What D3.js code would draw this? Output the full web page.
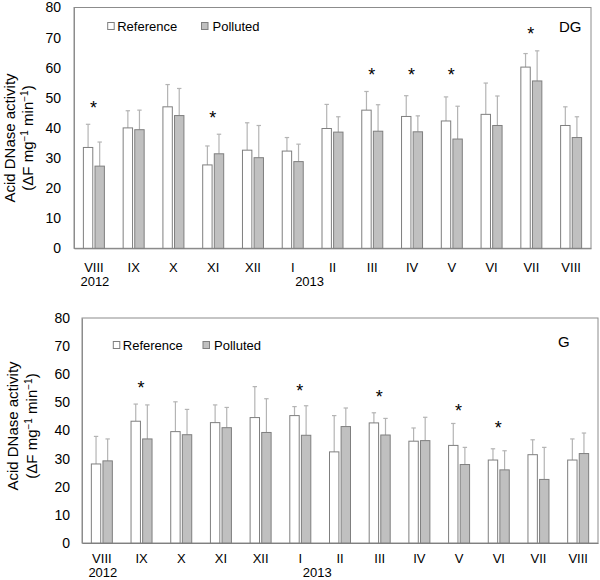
<!DOCTYPE html>
<html><head><meta charset="utf-8">
<script src="https://cdn.jsdelivr.net/npm/d3@7"></script>
<style>body{margin:0;background:#fff} svg{display:block;font-family:Arial,"Liberation Sans",sans-serif}</style>
</head><body><svg id="c" width="600" height="580"></svg>
<script>
// ---- data ----
const months = ["VIII","IX","X","XI","XII","I","II","III","IV","V","VI","VII","VIII"];
const yTicks = [0,10,20,30,40,50,60,70,80];
const years = ["2012","2013"];
const seriesNames = ["Reference","Polluted"];

const dgReference   = [33.5,40.0,47.0,27.7,32.6,32.3,39.8,45.9,43.8,42.3,44.5,60.2,40.8];
const dgReferenceSd = [7.7,5.7,7.4,6.3,9.1,4.5,8.0,6.2,6.9,8.0,10.4,4.5,6.2];
const dgPolluted    = [27.3,39.4,44.1,31.4,30.1,28.8,38.6,38.9,38.7,36.3,40.8,55.6,36.8];
const dgPollutedSd  = [8.0,6.5,9.0,6.5,10.7,5.8,5.1,8.8,5.3,10.9,9.8,10.0,6.9];
const dgStarIdx     = [0,3,7,8,9,11];
const dgStarPos     = [48.1,44.6,58.8,58.8,58.8,72.5];

const gReference    = [28.1,43.3,39.6,42.8,44.6,45.3,32.4,42.7,36.2,34.7,29.5,31.4,29.5];
const gReferenceSd  = [9.8,6.1,10.6,6.3,11.0,3.2,12.9,3.6,4.7,7.8,4.0,5.3,7.5];
const gPolluted     = [29.2,37.0,38.5,41.0,39.3,38.3,41.4,38.4,36.4,27.9,26.0,22.6,31.8];
const gPollutedSd   = [7.8,12.1,9.0,7.2,12.0,10.5,6.6,5.9,8.3,6.1,6.8,11.4,7.3];
const gStarIdx      = [1,5,7,9,10];
const gStarPos      = [56.4,55.5,53.2,48.4,42.3];

// ---- layout ----
const panels = [
  {name:"DG", ref:dgReference, refSd:dgReferenceSd, pol:dgPolluted, polSd:dgPollutedSd,
   starIdx:dgStarIdx, starPos:dgStarPos,
   x0:74, x1:591, yTop:7.5, yBot:248.3, tickPad:13, xPad:14, yearY:285.7,
   legX:107.7, legY:26, legX2:201.5, nameX:559, nameY:32,
   titleX1:10, titleX2:27.5, titleY:138},
  {name:"G", ref:gReference, refSd:gReferenceSd, pol:gPolluted, polSd:gPollutedSd,
   starIdx:gStarIdx, starPos:gStarPos,
   x0:82, x1:598, yTop:318, yBot:543, tickPad:12, xPad:10.5, yearY:577.3,
   legX:113.3, legY:345, legX2:203, nameX:558, nameY:347,
   titleX1:13, titleX2:32, titleY:426}
];

const svg = d3.select("#c");
const refFill = "#ffffff", polFill = "#c0c0c0";
const barStroke = "#7f7f7f", errColor = "#b4b4b4", frameColor = "#8c8c8c";

panels.forEach(p => {
  const g = svg.append("g");
  const x = d3.scaleBand().domain(d3.range(months.length)).range([p.x0, p.x1]);
  const y = d3.scaleLinear().domain([0,80]).range([p.yBot, p.yTop]);
  const bw = 9.4, gap = 2.2;

  // frame
  g.append("rect").attr("x", p.x0).attr("y", y(80)).attr("width", p.x1 - p.x0)
    .attr("height", y(0) - y(80)).attr("fill", "none").attr("stroke", frameColor).attr("stroke-width", 1);

  // y axis
  const ya = g.append("g").attr("transform", `translate(${p.x0},0)`)
    .call(d3.axisLeft(y).tickValues(yTicks).tickSize(0).tickPadding(p.tickPad));
  ya.select(".domain").attr("stroke", frameColor);
  ya.selectAll("text").attr("font-size", 14).attr("fill", "#000").attr("font-family", "Arial, 'Liberation Sans', sans-serif");

  // x axis
  const xa = g.append("g").attr("transform", `translate(0,${y(0)})`)
    .call(d3.axisBottom(x).tickSize(0).tickPadding(p.xPad).tickFormat(i => months[i]));
  xa.select(".domain").attr("stroke", "#808080");
  xa.selectAll("text").attr("font-size", 13).attr("fill", "#000").attr("font-family", "Arial, 'Liberation Sans', sans-serif");

  // years
  g.append("text").attr("x", x(0) + x.bandwidth()/2 + 1).attr("y", p.yearY)
    .attr("text-anchor", "middle").attr("font-size", 13).text(years[0]);
  g.append("text").attr("x", x(6) - 3).attr("y", p.yearY)
    .attr("text-anchor", "middle").attr("font-size", 13).text(years[1]);

  const series = [
    {vals:p.ref, sd:p.refSd, fill:refFill, off:-gap/2 - bw},
    {vals:p.pol, sd:p.polSd, fill:polFill, off:gap/2}
  ];
  series.forEach(s => {
    const cx = i => x(i) + x.bandwidth()/2 + s.off;
    // error bars (upper only)
    g.append("g").selectAll("line").data(s.vals).join("line")
      .attr("x1", (d,i) => cx(i) + bw/2).attr("x2", (d,i) => cx(i) + bw/2)
      .attr("y1", d => y(d)).attr("y2", (d,i) => y(d + s.sd[i]))
      .attr("stroke", errColor).attr("stroke-width", 1.2);
    g.append("g").selectAll("line").data(s.vals).join("line")
      .attr("x1", (d,i) => cx(i) + bw/2 - 2.2).attr("x2", (d,i) => cx(i) + bw/2 + 2.2)
      .attr("y1", (d,i) => y(d + s.sd[i])).attr("y2", (d,i) => y(d + s.sd[i]))
      .attr("stroke", errColor).attr("stroke-width", 1.2);
    // bars
    g.append("g").selectAll("rect").data(s.vals).join("rect")
      .attr("x", (d,i) => cx(i)).attr("width", bw)
      .attr("y", d => y(d)).attr("height", d => y(0) - y(d))
      .attr("fill", s.fill).attr("stroke", barStroke).attr("stroke-width", 1);
  });

  // stars
  g.append("g").selectAll("text").data(p.starIdx).join("text")
    .attr("x", (d) => x(d) + x.bandwidth()/2 - 0.5)
    .attr("y", (d,k) => y(p.starPos[k]) + 10)
    .attr("text-anchor", "middle").attr("font-size", 18).text("*");

  // legend
  g.append("rect").attr("x", p.legX).attr("y", p.legY - 3.5).attr("width", 6.5).attr("height", 7)
    .attr("fill", refFill).attr("stroke", barStroke);
  g.append("text").attr("x", p.legX + 9.5).attr("y", p.legY + 4.7).attr("font-size", 13).text(seriesNames[0]);
  g.append("rect").attr("x", p.legX2).attr("y", p.legY - 3.5).attr("width", 6.5).attr("height", 7)
    .attr("fill", polFill).attr("stroke", barStroke);
  g.append("text").attr("x", p.legX2 + 11).attr("y", p.legY + 4.7).attr("font-size", 13).text(seriesNames[1]);

  // panel name
  g.append("text").attr("x", p.nameX).attr("y", p.nameY).attr("font-size", 15).text(p.name);

  // y title
  g.append("text").attr("transform", `translate(${p.titleX1},${p.titleY}) rotate(-90)`)
    .attr("text-anchor", "middle").attr("dy", "0.35em").attr("font-size", 15).text("Acid DNase activity");
  const t2 = g.append("text").attr("transform", `translate(${p.titleX2},${p.titleY}) rotate(-90)`)
    .attr("text-anchor", "middle").attr("dy", "0.35em").attr("font-size", 15);
  t2.append("tspan").text("(ΔF mg");
  t2.append("tspan").attr("dy", -5).attr("font-size", 10).text("−1");
  t2.append("tspan").attr("dy", 5).text(" min");
  t2.append("tspan").attr("dy", -5).attr("font-size", 10).text("−1");
  t2.append("tspan").attr("dy", 5).text(")");
});
</script>
</body></html>
